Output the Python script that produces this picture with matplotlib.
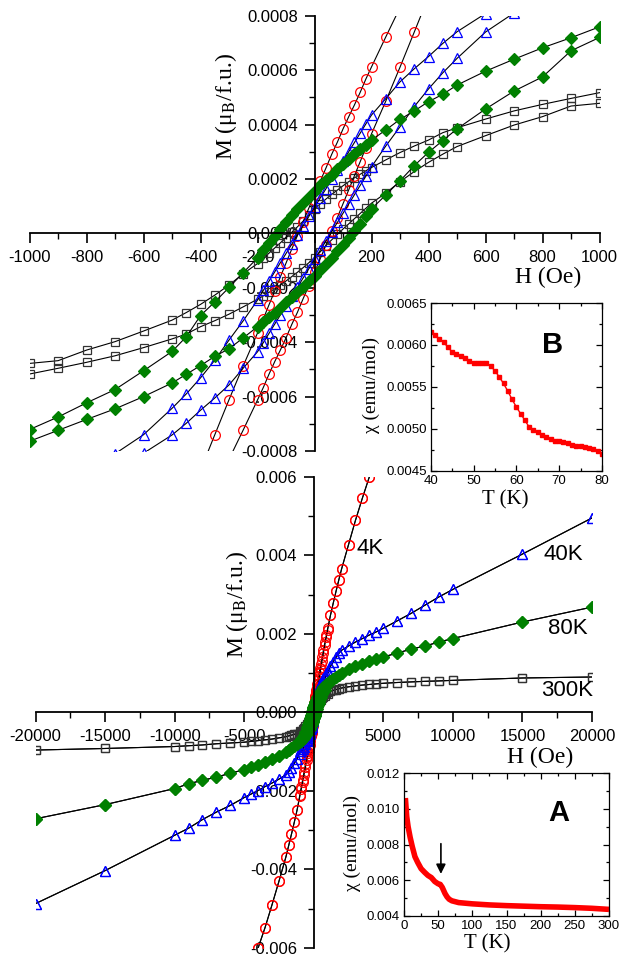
import matplotlib
matplotlib.use('Agg')
import matplotlib.pyplot as plt
from matplotlib.ticker import MultipleLocator, FuncFormatter

plt.rcParams['font.family'] = 'Liberation Sans'
plt.rcParams['mathtext.fontset'] = 'stix'

# field grid: high-field points (positive / negative side) and the inner loop
H_pos = [20000, 15000, 10000, 9000, 8000, 7000, 6000, 5000, 4500, 4000,
         3500, 3000, 2500, 2000, 1800, 1600, 1400, 1200]
H_neg = [-1200, -1400, -1600, -1800, -2000, -2500, -3000, -3500, -4000,
         -4500, -5000, -6000, -7000, -8000, -9000, -10000, -15000, -20000]
H_in = [1000, 900, 800, 700, 600, 500, 450, 400, 350, 300, 250,
        200, 180, 160, 140, 120, 100, 80, 60, 40, 20, 0,
        -20, -40, -60, -80, -100, -120, -140, -160, -180, -200,
        -250, -300, -350, -400, -450, -500, -600, -700, -800, -900, -1000]

# 4 K (red circles)
m4_pos = [0.0148, 0.0130, 0.0106, 0.0100, 0.0094, 0.0087, 0.0079, 0.0070, 0.0065,
          0.00600, 0.00546, 0.00489, 0.00427, 0.00365, 0.00337, 0.00308, 0.00278, 0.00247]
m4_neg = [-0.00249, -0.00280, -0.00310, -0.00339, -0.00368, -0.00430, -0.00490,
          -0.00548, -0.00600, -0.0065, -0.0070, -0.0079, -0.0087, -0.0094, -0.0100,
          -0.0106, -0.0130, -0.0148]
m4_up = [0.00214, 0.00196, 0.00178, 0.00160, 0.00140, 0.00122, 0.00113, 0.00104,
         0.000935, 0.000830, 0.000722,
         0.000612, 0.000567, 0.000518, 0.000472, 0.000429, 0.000384, 0.000335,
         0.000290, 0.000240, 0.000192, 0.000143, 0.000093, 0.000043, -0.000008,
         -0.000058, -0.000109, -0.000160, -0.000212, -0.000263, -0.000315, -0.000366,
         -0.000486, -0.000611, -0.000740, -0.000870, -0.000990, -0.00111, -0.00132,
         -0.00152, -0.00172, -0.00191, -0.00210]
m4_dn = [0.00210, 0.00191, 0.00172, 0.00152, 0.00132, 0.00111, 0.000990, 0.000870,
         0.000740, 0.000611, 0.000486,
         0.000366, 0.000315, 0.000263, 0.000212, 0.000160, 0.000109, 0.000058,
         0.000008, -0.000043, -0.000093, -0.000143, -0.000192, -0.000240, -0.000290,
         -0.000335, -0.000384, -0.000429, -0.000472, -0.000518, -0.000567, -0.000612,
         -0.000722, -0.000830, -0.000935, -0.00104, -0.00113, -0.00122, -0.00140,
         -0.00160, -0.00178, -0.00196, -0.00214]

# 40 K (blue triangles)
m40_pos = [0.00495, 0.00403, 0.00313, 0.00294, 0.00273, 0.00252, 0.00233, 0.00214,
           0.00205, 0.00197, 0.00188, 0.00179, 0.00169, 0.00158, 0.00150, 0.00140,
           0.00129, 0.00117]
m40_neg = [-0.00118, -0.00130, -0.00141, -0.00151, -0.00159, -0.00170, -0.00180,
           -0.00189, -0.00199, -0.00208, -0.00217, -0.00237, -0.00254, -0.00273,
           -0.00295, -0.00313, -0.00403, -0.00487]
m40_up = [0.00105, 0.00099, 0.00093, 0.00087, 0.000808, 0.000741, 0.000698, 0.000650,
          0.000605, 0.000557, 0.000495,
          0.000435, 0.000402, 0.000368, 0.000334, 0.000300, 0.000266, 0.000232,
          0.000198, 0.000164, 0.000130, 0.000096, 0.000062, 0.000028, -0.000006,
          -0.000040, -0.000074, -0.000108, -0.000142, -0.000176, -0.000210, -0.000245,
          -0.000321, -0.000392, -0.000466, -0.000531, -0.000590, -0.000643, -0.000740,
          -0.00081, -0.00087, -0.00093, -0.00099]
m40_dn = [0.00099, 0.00093, 0.00087, 0.00081, 0.000740, 0.000643, 0.000590, 0.000531,
          0.000466, 0.000392, 0.000321,
          0.000245, 0.000210, 0.000176, 0.000142, 0.000108, 0.000074, 0.000040,
          0.000006, -0.000028, -0.000062, -0.000096, -0.000130, -0.000164, -0.000198,
          -0.000232, -0.000266, -0.000300, -0.000334, -0.000368, -0.000402, -0.000435,
          -0.000495, -0.000557, -0.000605, -0.000650, -0.000698, -0.000741, -0.000808,
          -0.00087, -0.00093, -0.00099, -0.00105]

# 80 K (green diamonds)
m80_pos = [0.00268, 0.00230, 0.00188, 0.00179, 0.00169, 0.00161, 0.00151, 0.00141,
           0.00136, 0.00131, 0.00124, 0.00117, 0.00110, 0.00099, 0.00094, 0.00089,
           0.00084, 0.00080]
m80_neg = [-0.00081, -0.00085, -0.00090, -0.00095, -0.00100, -0.00111, -0.00119,
           -0.00127, -0.00134, -0.00140, -0.00146, -0.00155, -0.00165, -0.00173,
           -0.00182, -0.00194, -0.00235, -0.00271]
m80_up = [0.000759, 0.000719, 0.000682, 0.000640, 0.000596, 0.000545, 0.000511,
          0.000484, 0.000450, 0.000419, 0.000380,
          0.000343, 0.000326, 0.000309, 0.000291, 0.000273, 0.000254, 0.000235,
          0.000216, 0.000196, 0.000176, 0.000156, 0.000135, 0.000113, 0.000090,
          0.000066, 0.000042, 0.000017, -0.000009, -0.000036, -0.000063, -0.000090,
          -0.000144, -0.000199, -0.000252, -0.000302, -0.000380, -0.000434, -0.000505,
          -0.000574, -0.000623, -0.000675, -0.000721]
m80_dn = [0.000720, 0.000671, 0.000575, 0.000523, 0.000457, 0.000384, 0.000341,
          0.000298, 0.000249, 0.000193, 0.000141,
          0.000090, 0.000063, 0.000036, 0.000009, -0.000017, -0.000042, -0.000066,
          -0.000090, -0.000113, -0.000135, -0.000156, -0.000176, -0.000196, -0.000216,
          -0.000235, -0.000254, -0.000273, -0.000291, -0.000309, -0.000326, -0.000343,
          -0.000384, -0.000424, -0.000452, -0.000486, -0.000518, -0.000550, -0.000600,
          -0.000645, -0.000684, -0.000724, -0.000764]

# 300 K (black squares)
m300_pos = [0.00090, 0.000875, 0.000815, 0.00080, 0.00079, 0.000775, 0.00076, 0.00074,
            0.000725, 0.00071, 0.000695, 0.000675, 0.00065, 0.00062, 0.00060, 0.00058,
            0.00056, 0.00054]
m300_neg = [-0.00054, -0.00056, -0.00058, -0.00060, -0.00062, -0.00065, -0.00068,
            -0.00070, -0.00072, -0.00074, -0.00076, -0.00078, -0.00080, -0.00083,
            -0.00085, -0.00087, -0.00092, -0.00096]
m300_up = [0.000517, 0.000496, 0.000474, 0.000450, 0.000420, 0.000388, 0.000370,
           0.000343, 0.000321, 0.000297, 0.000270,
           0.000242, 0.000230, 0.000217, 0.000204, 0.000190, 0.000175, 0.000159,
           0.000143, 0.000126, 0.000108, 0.000090, 0.000068, 0.000045, 0.000024,
           0.000004, -0.000016, -0.000035, -0.000054, -0.000073, -0.000092, -0.000111,
           -0.000148, -0.000190, -0.000227, -0.000261, -0.000291, -0.000319, -0.000359,
           -0.000398, -0.000429, -0.000468, -0.000478]
m300_dn = [0.000478, 0.000468, 0.000429, 0.000398, 0.000359, 0.000319, 0.000291,
           0.000261, 0.000227, 0.000190, 0.000148,
           0.000111, 0.000092, 0.000073, 0.000054, 0.000035, 0.000016, -0.000004,
           -0.000024, -0.000045, -0.000068, -0.000090, -0.000108, -0.000126, -0.000143,
           -0.000159, -0.000175, -0.000190, -0.000204, -0.000217, -0.000230, -0.000242,
           -0.000270, -0.000297, -0.000321, -0.000343, -0.000370, -0.000388, -0.000420,
           -0.000450, -0.000474, -0.000496, -0.000517]

# inset B: chi(T) 40-80 K
TB = list(range(40, 81))
chiB = [0.00616, 0.00612, 0.00607, 0.00604, 0.00597, 0.00592, 0.00589, 0.00587,
        0.00584, 0.00581, 0.00579, 0.00578, 0.00578, 0.00578, 0.00575, 0.00569,
        0.00562, 0.00554, 0.00545, 0.00535, 0.00526, 0.00518, 0.00510, 0.00502,
        0.00498, 0.00496, 0.00493, 0.00490, 0.00488, 0.00486, 0.00485, 0.00484,
        0.00483, 0.00481, 0.00480, 0.00479, 0.00478, 0.00477, 0.00476, 0.00474,
        0.00470]

# inset A: chi(T) 2-300 K
TA = [2, 4, 6, 9, 12, 16, 20, 25, 30, 35, 40, 45, 50, 53, 56, 60, 63, 66, 70, 80,
      100, 125, 150, 175, 200, 225, 250, 275, 300]
chiA = [0.0106, 0.00956, 0.0090, 0.00840, 0.00790, 0.00732, 0.00700, 0.00665,
        0.00645, 0.00627, 0.00615, 0.00593, 0.00580, 0.00577, 0.00560, 0.00526,
        0.00507, 0.00494, 0.00485, 0.00475, 0.00468, 0.00462, 0.00458, 0.00455,
        0.00452, 0.00450, 0.00447, 0.00443, 0.00437]

series = [
    (m300_pos, m300_up, m300_dn, m300_neg, dict(marker='s', ms=6, mfc='none', mec='#333333')),
    (m4_pos, m4_up, m4_dn, m4_neg, dict(marker='o', ms=7, mfc='none', mec='red')),
    (m40_pos, m40_up, m40_dn, m40_neg, dict(marker='^', ms=7.5, mfc='none', mec='blue')),
    (m80_pos, m80_up, m80_dn, m80_neg, dict(marker='D', ms=6, mfc='#008000', mec='#008000')),
]

W, Hpx = 619, 961
def rect(x0, y0, x1, y1):
    return [x0 / W, 1 - y1 / Hpx, (x1 - x0) / W, (y1 - y0) / Hpx]

fig = plt.figure(figsize=(6.19, 9.61), dpi=100)
ax1 = fig.add_axes(rect(29.6, 15.7, 599.5, 451))
ax2 = fig.add_axes(rect(35.5, 476.7, 592, 948))

H_full = H_pos + H_in + H_neg
for ax in (ax1, ax2):
    for pos, up, dn, neg, st in series:
        ax.plot(H_full, pos + up + neg, color='black', lw=0.8, mew=0.9, **st)
        ax.plot(H_full, pos + dn + neg, color='black', lw=0.8, mew=0.9, **st)


def center_axes(ax, xlim, ylim, xmaj, xmin, ymaj, ymin, yfmt):
    ax.set_xlim(*xlim)
    ax.set_ylim(*ylim)
    ax.patch.set_visible(False)
    for s in ('top', 'right'):
        ax.spines[s].set_visible(False)
    for s in ('left', 'bottom'):
        ax.spines[s].set_position(('data', 0))
        ax.spines[s].set_linewidth(1.3)
    ax.xaxis.set_major_locator(MultipleLocator(xmaj))
    ax.xaxis.set_minor_locator(MultipleLocator(xmin))
    ax.yaxis.set_major_locator(MultipleLocator(ymaj))
    ax.yaxis.set_minor_locator(MultipleLocator(ymin))
    ax.xaxis.set_major_formatter(FuncFormatter(lambda v, p: '' if abs(v) < 1e-9 else '%d' % round(v)))
    ax.yaxis.set_major_formatter(FuncFormatter(lambda v, p: yfmt % (0 if abs(v) < 1e-12 else v)))
    ax.tick_params(which='major', direction='out', length=7, width=1.2, labelsize=12, pad=5)
    ax.tick_params(which='minor', direction='out', length=4, width=1.0)


center_axes(ax1, (-1000, 1000), (-0.0008, 0.0008), 200, 100, 0.0002, 0.0001, '%.4f')
center_axes(ax2, (-20000, 20000), (-0.006, 0.006), 5000, 2500, 0.002, 0.001, '%.3f')

serif = 'Liberation Serif'
def ftext(x, y, s, **kw):
    fig.text(x / W, 1 - y / Hpx, s, ha='center', va='center', **kw)

ftext(548, 277, 'H (Oe)', family=serif, fontsize=17)
ftext(540, 757, 'H (Oe)', family=serif, fontsize=17)
ftext(226, 107, r'M (μ$_{\rm B}$/f.u.)', family=serif, fontsize=17, rotation=90)
ftext(237, 605, r'M (μ$_{\rm B}$/f.u.)', family=serif, fontsize=17, rotation=90)

ftext(370, 548, '4K', fontsize=16)
ftext(563, 555, '40K', fontsize=16)
ftext(568, 629, '80K', fontsize=16)
ftext(567, 690, '300K', fontsize=16)


def inset(ax, xlim, ylim, xmaj, xmin, ymaj, ymin, yfmt):
    ax.set_xlim(*xlim)
    ax.set_ylim(*ylim)
    ax.xaxis.set_major_locator(MultipleLocator(xmaj))
    ax.xaxis.set_minor_locator(MultipleLocator(xmin))
    ax.yaxis.set_major_locator(MultipleLocator(ymaj))
    ax.yaxis.set_minor_locator(MultipleLocator(ymin))
    ax.yaxis.set_major_formatter(FuncFormatter(lambda v, p: yfmt % v))
    ax.tick_params(which='both', direction='in', top=True, right=True, width=0.9)
    ax.tick_params(which='major', length=4, labelsize=9.5, pad=3)
    ax.tick_params(which='minor', length=2)
    for s in ax.spines.values():
        s.set_linewidth(0.9)


axB = fig.add_axes(rect(430.7, 303, 602, 470.7))
axB.plot(TB, chiB, color='red', lw=1, marker='s', ms=3, mec='red', mfc='red')
inset(axB, (40, 80), (0.0045, 0.0065), 10, 5, 0.0005, 0.00025, '%.4f')
axB.text(0.71, 0.75, 'B', transform=axB.transAxes, fontsize=21, fontweight='bold',
         ha='center', va='center')
ftext(371, 385, 'χ (emu/mol)', family=serif, fontsize=14, rotation=90)
ftext(505, 500, 'T (K)', family=serif, fontsize=15)

axA = fig.add_axes(rect(404, 773, 609, 916))
axA.plot(TA, chiA, color='red', lw=4, solid_capstyle='butt')
inset(axA, (0, 300), (0.004, 0.012), 50, 25, 0.002, 0.001, '%.3f')
axA.text(0.756, 0.72, 'A', transform=axA.transAxes, fontsize=21, fontweight='bold',
         ha='center', va='center')
axA.annotate('', xy=(54, 0.0062), xytext=(54, 0.0082),
             arrowprops=dict(arrowstyle='-|>', color='black', lw=1.2, mutation_scale=14))
ftext(352, 843, 'χ (emu/mol)', family=serif, fontsize=14, rotation=90)
ftext(487, 944, 'T (K)', family=serif, fontsize=15)

fig.savefig('out.png', dpi=100)
